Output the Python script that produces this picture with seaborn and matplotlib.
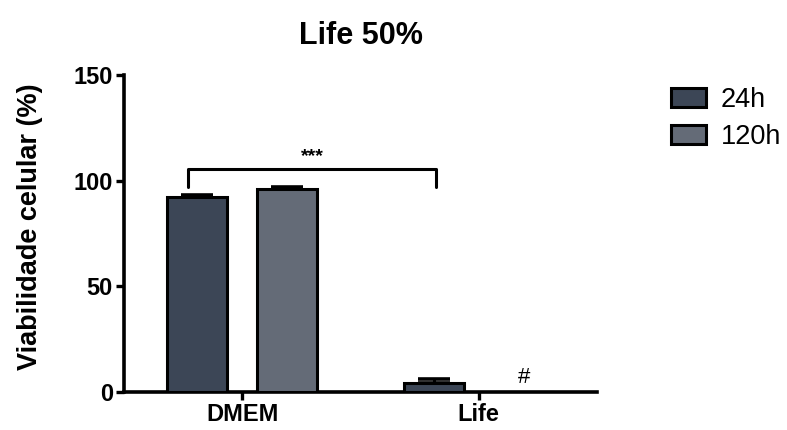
import matplotlib
matplotlib.use("Agg")
import matplotlib.pyplot as plt
import seaborn as sns
import pandas as pd

# Cell viability after exposure, mean and upper error per group
groups = ["DMEM", "DMEM", "Life", "Life"]
times = ["24h", "120h", "24h", "120h"]
viability = [92.5, 96.0, 4.4, 0.0]
errors = [0.6, 1.2, 1.6, 0.0]
time_order = ["24h", "120h"]
palette = {"24h": "#3c4656", "120h": "#646b77"}
yticks = [0, 50, 100, 150]

df = pd.DataFrame({"grupo": groups, "tempo": times, "viab": viability, "err": errors})

sns.set_theme(style="white")
plt.rcParams["font.family"] = ["Liberation Sans", "DejaVu Sans"]
plt.rcParams.update({"text.color": "black", "axes.labelcolor": "black",
                     "xtick.color": "black", "ytick.color": "black"})

fig = plt.figure(figsize=(7.87, 4.30), dpi=100)
ax = fig.add_axes([0.1576, 0.0884, 0.601, 0.7372])

sns.barplot(data=df, x="grupo", y="viab", hue="tempo", hue_order=time_order,
            palette=palette, width=0.76, gap=0.33, errorbar=None,
            edgecolor="black", linewidth=2.2, saturation=1, ax=ax, zorder=3)

# upper-only error bars placed on each bar
ordered = df.sort_values(
    by="tempo", key=lambda s: s.map({t: i for i, t in enumerate(time_order)}),
    kind="stable")
for patch, (_, row) in zip(ax.patches, ordered.iterrows()):
    if row["viab"] <= 0:
        continue
    xc = patch.get_x() + patch.get_width() / 2
    ax.errorbar(xc, row["viab"], yerr=[[0], [row["err"]]], fmt="none",
                ecolor="black", elinewidth=2.2, capsize=11.5, capthick=2.6, zorder=4)

# significance bracket between DMEM 24h and Life 24h
x1, x2 = -0.23, 0.82
ax.plot([x1, x1, x2, x2], [97, 105.5, 105.5, 97], color="black", lw=2.2,
        clip_on=False, zorder=5)
ax.text((x1 + x2) / 2, 107.5, "***", ha="center", va="bottom", fontsize=14,
        fontweight="bold")
ax.text(1.19, 1.8, "#", ha="center", va="bottom", fontsize=16)

ax.set_xlim(-0.5, 1.5)
ax.set_ylim(0, 150)
ax.set_yticks(yticks)
ax.set_yticklabels([str(t) for t in yticks])
ax.set_xlabel("")
ax.set_ylabel("Viabilidade celular (%)", fontsize=19.5, fontweight="bold", labelpad=22)
ax.yaxis.label.set_y(0.52)
ax.set_title("Life 50%", fontsize=22, fontweight="bold", pad=22)

for side in ["top", "right"]:
    ax.spines[side].set_visible(False)
for side in ["left", "bottom"]:
    ax.spines[side].set_linewidth(2.6)
    ax.spines[side].set_color("black")
ax.tick_params(axis="both", direction="out", length=6, width=2.4, color="black",
               labelcolor="black", pad=2)
ax.tick_params(axis="y", left=True, labelsize=17)
ax.tick_params(axis="x", bottom=True, labelsize=17)
for lab in ax.get_xticklabels() + ax.get_yticklabels():
    lab.set_fontweight("bold")

leg = ax.legend(title=None, loc="upper left", bbox_to_anchor=(1.105, 1.04),
                frameon=False, fontsize=19.5, handlelength=1.28, handleheight=0.7,
                handletextpad=0.55, labelspacing=0.42)
for h in leg.legend_handles:
    h.set_edgecolor("black")
    h.set_linewidth(2.2)
for t in leg.get_texts():
    t.set_color("black")

fig.savefig("out.png", dpi=100)
